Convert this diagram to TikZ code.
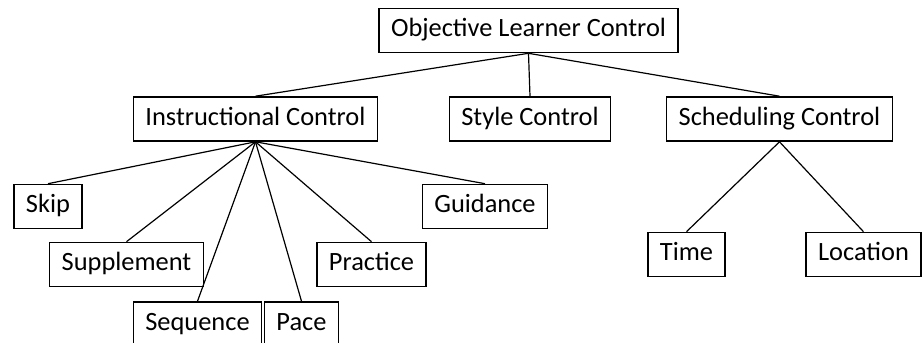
\documentclass[tikz,border=0pt]{standalone}
\usepackage{fontspec}
\setmainfont{Carlito}
\begin{document}
\begin{tikzpicture}[x=0.5pt,y=-0.5pt,
  every node/.style={font=\fontsize{13.2}{15}\selectfont},
  ctrlbox/.style={draw,line width=0.8pt,inner xsep=6pt,inner ysep=0pt,minimum height=22pt,text height=0.78em,text depth=0.16em},
  branch/.style={line width=0.6pt}]
\useasboundingbox (0,0) rectangle (922,343);
\clip (0,0) rectangle (922,343);
\node[ctrlbox] (olc) at (528.5,30.5) {Objective Learner Control};
\node[ctrlbox] (ic) at (255.5,119) {Instructional Control};
\node[ctrlbox] (sc) at (530,119) {Style Control};
\node[ctrlbox] (schc) at (779.5,119) {Scheduling Control};
\node[ctrlbox] (skip) at (48,206.5) {Skip};
\node[ctrlbox] (supp) at (126.5,264.5) {Supplement};
\node[ctrlbox] (seq) at (197.5,324) {Sequence};
\node[ctrlbox] (pace) at (301.5,324) {Pace};
\node[ctrlbox] (prac) at (371.5,264.5) {Practice};
\node[ctrlbox] (guid) at (485,206.5) {Guidance};
\node[ctrlbox] (time) at (686.5,254.5) {Time};
\node[ctrlbox] (loc) at (863.5,254.5) {Location};
\foreach \c in {ic,sc,schc} \draw[branch] (olc.south) -- (\c.north);
\foreach \c in {skip,supp,seq,pace,prac,guid} \draw[branch] (ic.south) -- (\c.north);
\foreach \c in {time,loc} \draw[branch] (schc.south) -- (\c.north);
\end{tikzpicture}
\end{document}
